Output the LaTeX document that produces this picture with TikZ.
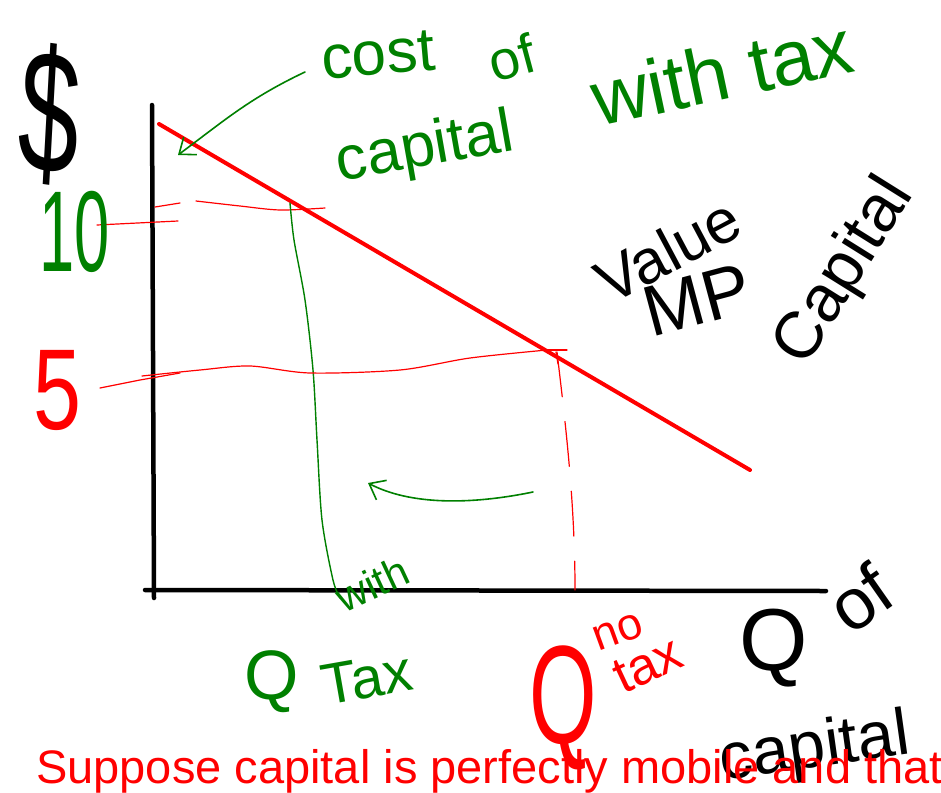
\documentclass[tikz,border=0pt]{standalone}
\usepackage{fontspec}
\setmainfont{Liberation Sans}
\usetikzlibrary{arrows.meta}
\definecolor{pgreen}{RGB}{0,128,0}
\definecolor{pred}{RGB}{255,0,0}
\begin{document}
\begin{tikzpicture}[x=1pt,y=-1pt,
  axis/.style={line width=4.5pt, line cap=round},
  demand/.style={line width=4pt, pred, line cap=round},
  pen/.style={line width=1.6pt, line cap=round, line join=round},
  hand/.style={inner sep=0pt, font=\fontsize{#1}{#1}\selectfont},
  barb/.style={-{Straight Barb[length=14pt,width=22pt,line width=1.6pt]}},
]
\useasboundingbox (0,0) rectangle (941,792);
\fill[white] (0,0) rectangle (941,792);

% axes
\coordinate (ytop) at (152,105);
\coordinate (ybot) at (154,598);
\coordinate (xleft) at (145,590);
\coordinate (xright) at (826,591);
\draw[axis] (ytop) -- (ybot);
\draw[axis] (xleft) -- (xright);

% demand (value MP of capital)
\coordinate (d1) at (159,124);
\coordinate (d2) at (750,470);
\draw[demand] (d1) -- (d2);

% level 10 lines
\draw[pen,pred,line width=1.2pt] (97,225) -- (178,221);
\draw[pen,pred,line width=1.2pt] (155,207) -- (180,203);
\draw[pen,pred,line width=1.2pt] plot[smooth] coordinates {(196,201) (240,206) (280,210) (325,208)};

% green vertical at with-tax quantity
\draw[pen,pgreen,line width=1.4pt] plot[smooth] coordinates {(290,203) (294,240) (305,300) (313,370) (317,440) (322,520) (333,580) (340,598)};

% level 5 lines
\draw[pen,pred,line width=1.2pt] (100,388) -- (140,380) -- (180,373);
\draw[pen,pred,line width=1.2pt] plot[smooth] coordinates {(142,376) (200,370) (250,366) (310,373) (400,370) (470,358) (547,350)};
\draw[pen,pred,line width=1.2pt] (543,350) -- (567,350);
\draw[pen,pred,line width=1.2pt] (556,352) -- (558,364);

% red dashed vertical at no-tax quantity
\draw[pen,pred,line width=1.2pt,dash pattern=on 45pt off 25pt] (557,352) .. controls (565,420) and (575,500) .. (575,590);

% green arrow pointing to the curve
\coordinate (c1) at (305,72);
\coordinate (c2) at (178,155);
\draw[pen,pgreen,barb] (c1) .. controls (250,98) and (225,120) .. (c2);

% green arrow pointing left
\coordinate (g1) at (533,492);
\coordinate (g2) at (368,483);
\draw[pen,pgreen,barb] (g1) .. controls (470,505) and (410,505) .. (g2);

% labels: axis
\node[hand=175, xscale=0.62, rotate=-5] (dollar) at (50,114) {\$};
\node[hand=115, xscale=0.55, text=pgreen] (ten) at (75,232) {10};
\node[hand=115, xscale=0.75, text=pred] (five) at (57,390) {5};

% cost of capital with tax
\node[hand=62, text=pgreen, rotate=5] (cost) at (378,55) {cost};
\node[hand=62, text=pgreen, rotate=10] (capg) at (425,150) {capital};
\node[hand=55, text=pgreen, rotate=15] (ofg) at (512,58) {of};
\node[hand=78, text=pgreen, rotate=12] (withtax) at (722,72) {with tax};

% Value MP capital
\node[hand=62, rotate=28] (value) at (668,250) {Value};
\node[hand=72, rotate=15] (mp) at (697,300) {MP};
\node[hand=66, rotate=58] (capb) at (845,272) {Capital};

% Q with tax
\node[hand=70, text=pgreen] (qg) at (272,682) {Q};
\node[hand=42, text=pgreen, rotate=25] (withg) at (372,584) {with};
\node[hand=58, text=pgreen, rotate=10] (taxg) at (367,678) {Tax};

% Q no tax
\node[hand=140, xscale=0.62, text=pred] (qr) at (563,708) {Q};
\node[hand=45, text=pred, rotate=20] (nor) at (618,632) {no};
\node[hand=52, text=pred, rotate=25] (taxr) at (648,665) {tax};

% Q of capital
\node[hand=88] (qb) at (774,648) {Q};
\node[hand=72, rotate=35] (ofb) at (860,598) {of};
\node[hand=66, rotate=8] (capq) at (815,750) {capital};

% bottom sentence
\node[hand=47, text=pred, anchor=base west] (sent) at (36,783) {Suppose capital is perfectly mobile and that};
\end{tikzpicture}
\end{document}
